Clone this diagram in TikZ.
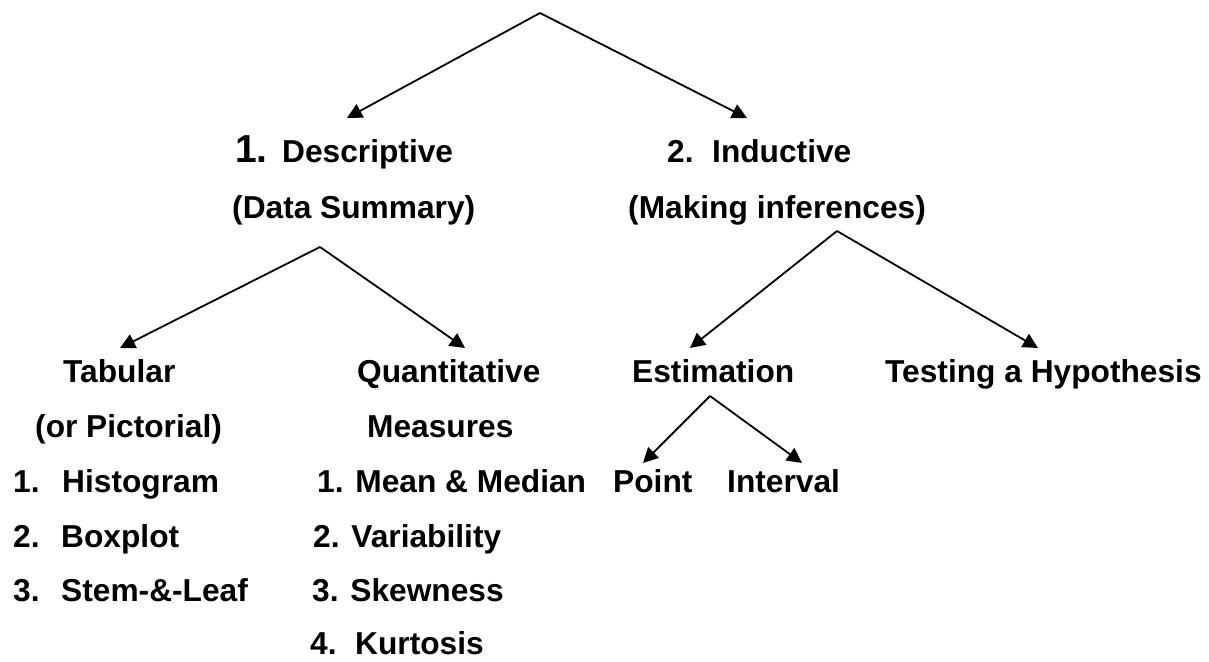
\documentclass[tikz,border=0pt]{standalone}
\usepackage{fontspec}
\setmainfont{Liberation Sans}
\usetikzlibrary{arrows.meta}
\begin{document}
\begin{tikzpicture}[x=1pt,y=-1pt,
  lbl/.style={anchor=base west, inner sep=0pt, font=\fontsize{31.7}{38}\selectfont\bfseries},
  arr/.style={line width=1.8pt, -{Triangle[length=15pt,width=15pt]}}]
\useasboundingbox (0,0) rectangle (1209,661);

% text nodes
\node[lbl] (desc) at (235,162) {\makebox[47pt][l]{\fontsize{39}{40}\selectfont 1.}Descriptive};
\node[lbl] (datasum) at (232,218) {(Data Summary)};
\node[lbl] (induct) at (667,162) {\makebox[45pt][l]{2.}Inductive};
\node[lbl] (making) at (628,218) {(Making inferences)};
\node[lbl] (tab) at (63,382) {Tabular};
\node[lbl] (pict) at (35,437) {(or Pictorial)};
\node[lbl] (hist) at (13,492) {\makebox[49pt][l]{1.}Histogram};
\node[lbl] (boxp) at (13,547) {\makebox[48pt][l]{2.}Boxplot};
\node[lbl] (stem) at (13,601) {\makebox[48pt][l]{3.}Stem-\&-Leaf};
\node[lbl] (quant) at (357,382) {Quantitative};
\node[lbl] (meas) at (367,437) {Measures};
\node[lbl] (mean) at (317,492) {1. Mean \& Median};
\node[lbl] (var) at (313,547) {2. Variability};
\node[lbl] (skew) at (312,601) {3. Skewness};
\node[lbl] (kurt) at (310,654) {\makebox[45pt][l]{4.}Kurtosis};
\node[lbl] (est) at (632,382) {Estimation};
\node[lbl] (test) at (885,382) {Testing a Hypothesis};
\node[lbl] (point) at (613,492) {Point};
\node[lbl] (interval) at (727,492) {Interval};

% branch points and arrow tips
\coordinate (top) at (540,13);
\coordinate (tdesc) at (347,118);
\coordinate (tind) at (747,118);
\coordinate (dapex) at (320,247);
\coordinate (ttab) at (120,348);
\coordinate (tquant) at (465,348);
\coordinate (iapex) at (837,231);
\coordinate (test-t) at (690,348);
\coordinate (ttest) at (1038,348);
\coordinate (eapex) at (710,396);
\coordinate (tpoint) at (643,463);
\coordinate (tint) at (802,463);

\draw[arr] (top) -- (tdesc);
\draw[arr] (top) -- (tind);
\draw[arr] (dapex) -- (ttab);
\draw[arr] (dapex) -- (tquant);
\draw[arr] (iapex) -- (test-t);
\draw[arr] (iapex) -- (ttest);
\draw[arr] (eapex) -- (tpoint);
\draw[arr] (eapex) -- (tint);
\end{tikzpicture}
\end{document}
